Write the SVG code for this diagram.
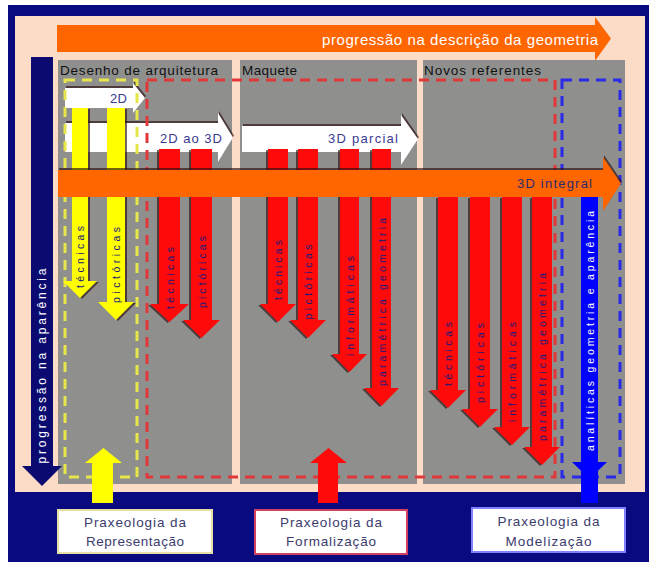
<svg xmlns="http://www.w3.org/2000/svg" xmlns:xlink="http://www.w3.org/1999/xlink" width="656" height="566" viewBox="0 0 656 566">
<style>
text{font-family:"Liberation Sans",Arial,sans-serif}
.hdr{font-size:13.5px;fill:#111}
.vl{font-size:10.5px;fill:#1a1a78;text-anchor:middle;dominant-baseline:central;lengthAdjust:spacing}
.wl{font-size:13px;fill:#3a3a90}
.box{font-size:13.5px;fill:#3b3b6e;text-anchor:middle}
.panel{fill:#8f908e}
.sh{fill:#2a1010;opacity:.65}
.yel{fill:#ffff00}
.red{fill:#ff0a0a}
.wht{fill:#ffffff}
.org{fill:#ff6600}
.dash{fill:none;stroke-width:3;stroke-dasharray:10 7}
</style>
<defs>
<path id="y1" d="M72,108 H88 V281 H97 L80,298 L63,281 H72 Z"/>
<path id="y2" d="M107,108 H125 V302 H134 L116,320 L98,302 H107 Z"/>
<path id="r1" d="M159,149 H180 V304 H189 L169.5,322 L150,304 H159 Z"/>
<path id="r2" d="M191,149 H212 V320 H220 L201.5,338 L183,320 H191 Z"/>
<path id="m1" d="M268,149 H288 V304 H296 L278,322 L260,304 H268 Z"/>
<path id="m2" d="M298,149 H318 V320 H326 L308,338 L290,320 H298 Z"/>
<path id="m3" d="M340,149 H359 V354 H367 L349.5,372 L332,354 H340 Z"/>
<path id="m4" d="M372,149 H391 V388 H399 L381.5,406 L364,388 H372 Z"/>
<path id="n1" d="M438,197 H458 V390 H466 L448,408 L430,390 H438 Z"/>
<path id="n2" d="M470,197 H490 V409 H498 L480,427 L462,409 H470 Z"/>
<path id="n3" d="M502,197 H522 V427 H530 L512,445 L494,427 H502 Z"/>
<path id="n4" d="M532,197 H552 V447 H560 L542,465 L524,447 H532 Z"/>
<path id="w1" d="M65,88 H133 V83 L145,98 L133,113 V108 H65 Z"/>
<path id="w2" d="M65,123 H218 V113 L233,137.5 L218,162 V152 H65 Z"/>
<path id="w3" d="M242,126 H401 V115 L418,139 L401,165 V152 H242 Z"/>
<path id="o2" d="M58,170 H603 V157 L621,183.5 L603,211 V197 H58 Z"/>
</defs>

<!-- background -->
<rect x="0" y="0" width="656" height="566" fill="#ffffff"/>
<rect x="8" y="5" width="641" height="557" fill="#0a0a80"/>
<rect x="15" y="16" width="630" height="476" fill="#fcdcc6"/>

<!-- top progression arrow -->
<g id="top-arrow">
<path class="org" d="M57,25 H595 V17 L611,38.5 L595,61 V52 H57 Z"/>
<text x="598" y="45" font-size="15" fill="#ffffff" text-anchor="end" textLength="276" lengthAdjust="spacing">progressão na descrição da geometria</text>
</g>

<!-- panels -->
<g id="panel-desenho">
<rect class="panel" x="58" y="60" width="174" height="424"/>
<text class="hdr" x="60" y="75" textLength="158" lengthAdjust="spacing">Desenho de arquitetura</text>
</g>
<g id="panel-maquete">
<rect class="panel" x="240" y="60" width="177" height="424"/>
<text class="hdr" x="242" y="75" textLength="55" lengthAdjust="spacing">Maquete</text>
</g>
<g id="panel-novos">
<rect class="panel" x="423" y="60" width="202" height="424"/>
<text class="hdr" x="424" y="75" textLength="117" lengthAdjust="spacing">Novos referentes</text>
</g>

<!-- left vertical arrow -->
<g id="left-arrow">
<path fill="#0a0a70" d="M31,57 H53 V466 H62 L42,486 L22,466 H31 Z"/>
<text x="42" y="366" font-size="12" fill="#ffffff" text-anchor="middle" dominant-baseline="central" transform="rotate(-90 42 366)" textLength="195" lengthAdjust="spacing">progressão na aparência</text>
</g>

<!-- white arrows -->
<g id="arrow-2d">
<use xlink:href="#w1" class="sh" transform="translate(1,-2)"/>
<use xlink:href="#w1" class="wht"/>
<text class="wl" x="110" y="103" textLength="17" lengthAdjust="spacing">2D</text>
</g>
<g id="arrow-2d3d">
<use xlink:href="#w2" class="sh" transform="translate(1,-2)"/>
<use xlink:href="#w2" class="wht"/>
<text class="wl" x="160" y="143" textLength="62" lengthAdjust="spacing">2D ao 3D</text>
</g>
<g id="arrow-3dparcial">
<use xlink:href="#w3" class="sh" transform="translate(1,-2)"/>
<use xlink:href="#w3" class="wht"/>
<text class="wl" x="328" y="143" textLength="70" lengthAdjust="spacing">3D parcial</text>
</g>

<!-- dashed groupings -->
<g id="groupings">
<rect class="dash" x="65" y="80" width="72" height="397" stroke="#e6e64a"/>
<rect class="dash" x="147" y="80" width="408" height="397" stroke="#e03838"/>
<rect class="dash" x="562" y="80" width="58" height="397" stroke="#2a2ae8"/>
</g>

<!-- vertical arrows -->
<g id="connectors">
<use xlink:href="#y1" class="sh" transform="translate(2,1)"/><use xlink:href="#y1" class="yel"/>
<use xlink:href="#y2" class="sh" transform="translate(2,1)"/><use xlink:href="#y2" class="yel"/>
<use xlink:href="#r1" class="sh" transform="translate(-2,1)"/><use xlink:href="#r1" class="red"/>
<use xlink:href="#r2" class="sh" transform="translate(-2,1)"/><use xlink:href="#r2" class="red"/>
<use xlink:href="#m1" class="sh" transform="translate(-2,1)"/><use xlink:href="#m1" class="red"/>
<use xlink:href="#m2" class="sh" transform="translate(-2,1)"/><use xlink:href="#m2" class="red"/>
<use xlink:href="#m3" class="sh" transform="translate(-2,1)"/><use xlink:href="#m3" class="red"/>
<use xlink:href="#m4" class="sh" transform="translate(-2,1)"/><use xlink:href="#m4" class="red"/>
<use xlink:href="#n1" class="sh" transform="translate(-2,1)"/><use xlink:href="#n1" class="red"/>
<use xlink:href="#n2" class="sh" transform="translate(-2,1)"/><use xlink:href="#n2" class="red"/>
<use xlink:href="#n3" class="sh" transform="translate(-2,1)"/><use xlink:href="#n3" class="red"/>
<use xlink:href="#n4" class="sh" transform="translate(-2,1)"/><use xlink:href="#n4" class="red"/>
<path fill="#0000ff" d="M581,197 H598 V462 H607 L589.5,479 L572,462 H581 Z"/>
<rect x="581" y="470" width="17" height="33" fill="#0000ff"/>
<path fill="#ffff00" d="M92,503 V463 H85 L103.5,448 L122,463 H113 V503 Z"/>
<path fill="#ff0a0a" d="M318,503 V463 H310 L328.5,448 L347,463 H338 V503 Z"/>
</g>

<!-- vertical labels -->
<g id="vertical-labels">
<text class="vl" x="80" y="257" transform="rotate(-90 80 257)" textLength="62">técnicas</text>
<text class="vl" x="116" y="265" transform="rotate(-90 116 265)" textLength="76">pictóricas</text>
<text class="vl" x="169.5" y="278" transform="rotate(-90 169.5 278)" textLength="62">técnicas</text>
<text class="vl" x="201.5" y="272" transform="rotate(-90 201.5 272)" textLength="72">pictóricas</text>
<text class="vl" x="278" y="270" transform="rotate(-90 278 270)" textLength="60">técnicas</text>
<text class="vl" x="308" y="282" transform="rotate(-90 308 282)" textLength="75">pictóricas</text>
<text class="vl" x="349.5" y="306" transform="rotate(-90 349.5 306)" textLength="100">informáticas</text>
<text class="vl" x="381.5" y="302" transform="rotate(-90 381.5 302)" textLength="168">paramétrica geometria</text>
<text class="vl" x="448" y="354" transform="rotate(-90 448 354)" textLength="64">técnicas</text>
<text class="vl" x="480" y="363" transform="rotate(-90 480 363)" textLength="80">pictóricas</text>
<text class="vl" x="512" y="372" transform="rotate(-90 512 372)" textLength="100">informáticas</text>
<text class="vl" x="542" y="357" transform="rotate(-90 542 357)" textLength="168">paramétrica geometria</text>
<text class="vl" x="589.5" y="331" transform="rotate(-90 589.5 331)" textLength="240" style="fill:#ffffff">analíticas geometria e aparência</text>
</g>

<!-- 3D integral arrow -->
<g id="arrow-3dintegral">
<use xlink:href="#o2" class="sh" transform="translate(1,-2)"/>
<use xlink:href="#o2" class="org"/>
<text x="517" y="188" font-size="13" fill="#2a2a70" textLength="75" lengthAdjust="spacing">3D integral</text>
</g>

<!-- bottom boxes -->
<g id="box-representacao">
<rect x="58" y="510" width="154" height="43" fill="#ffffff" stroke="#e6e0a6" stroke-width="2"/>
<text class="box" x="135" y="527" textLength="102" lengthAdjust="spacing">Praxeologia da</text>
<text class="box" x="135" y="546" textLength="98" lengthAdjust="spacing">Representação</text>
</g>
<g id="box-formalizacao">
<rect x="255" y="510" width="152" height="44" fill="#ffffff" stroke="#d04060" stroke-width="2"/>
<text class="box" x="331" y="527" textLength="102" lengthAdjust="spacing">Praxeologia da</text>
<text class="box" x="331" y="546" textLength="90" lengthAdjust="spacing">Formalização</text>
</g>
<g id="box-modelizacao">
<rect x="472" y="508" width="153" height="44" fill="#ffffff" stroke="#8080ff" stroke-width="2"/>
<text class="box" x="548.5" y="526" textLength="102" lengthAdjust="spacing">Praxeologia da</text>
<text class="box" x="548.5" y="546" textLength="86" lengthAdjust="spacing">Modelização</text>
</g>
</svg>
